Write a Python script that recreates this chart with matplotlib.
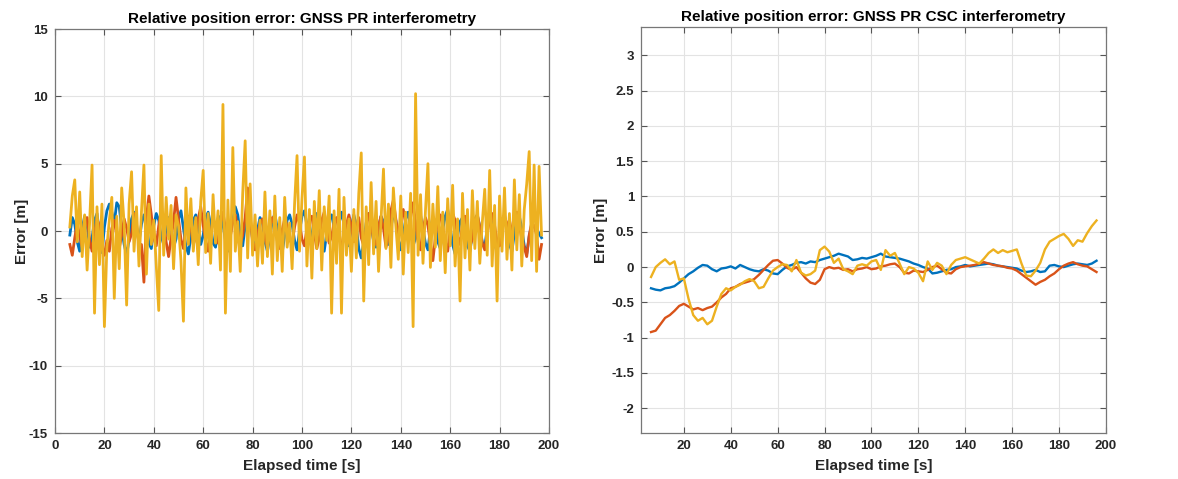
import numpy as np
import matplotlib.pyplot as plt

# kleuren zoals MATLAB standaard
c_blue = "#0072BD"
c_red = "#D95319"
c_yel = "#EDB120"

plt.rcParams['font.family'] = ['Liberation Sans', 'DejaVu Sans']
plt.rcParams['font.weight'] = 'bold'
plt.rcParams['axes.unicode_minus'] = False

# ---- links: GNSS PR interferometry (1 sample per seconde, t = 6..197 s)
t_pr = np.arange(6, 198)

err_pr_blue = [
    -0.3, 1.0, 0.5, -0.8, -1.5, 0.2, 1.1, 0.4, -1.2, -0.5,
    0.8, 1.3, -0.2, -1.6, 0.3, 1.5, 2.0, 1.4, 0.6, 2.1,
    1.8, 0.2, -1.0, -1.8, -0.6, 0.9, 1.4, 0.3, -0.8, 0.5,
    1.2, 0.6, -0.9, -1.3, 0.4, 1.3, 0.8, -0.4, -1.0, 0.2,
    1.0, 0.3, -1.2, -0.6, 0.9, 1.5, 0.2, -1.1, -1.7, -0.4,
    0.8, 1.2, 0.1, -1.0, -0.3, 1.0, 1.4, 0.5, -0.9, -1.2,
    0.2, 1.1, 0.5, -0.7, -1.5, -0.2, 0.9, 1.8, 1.2, -0.3,
    -1.1, 0.4, 1.6, 0.8, -0.6, -1.3, 0.1, 1.0, 0.6, -0.8,
    -1.5, -0.4, 0.7, 1.3, 0.2, -0.9, -1.6, -0.3, 0.8, 1.2,
    0.5, -0.7, -1.4, 0.0, 1.1, 1.5, 0.4, -0.8, -0.3, 0.9,
    1.3, 0.2, -1.0, -1.5, -0.2, 0.8, 1.2, 0.3, -0.6, 0.5,
    1.4, 0.6, -0.7, -1.1, 0.3, 1.2, 0.4, -1.3, -2.0, -0.8,
    0.6, 1.3, 0.5, -0.8, -1.2, 0.2, 1.1, 0.7, -0.5, -1.0,
    0.3, 1.2, 0.8, -0.6, -1.4, -0.3, 0.9, 1.4, 0.2, -1.1,
    -0.5, 0.8, 1.2, 0.1, -0.9, -1.4, 0.2, 1.0, 0.5, -0.8,
    -1.3, 0.1, 1.1, 1.6, 0.3, -1.0, -1.7, -0.4, 0.7, 1.0,
    0.1, -1.1, -1.5, -0.2, 0.9, 1.2, 0.3, -0.8, -1.2, 0.2,
    1.0, 0.6, -0.9, -1.6, -0.3, 0.8, 1.2, 0.1, -1.0, -1.5,
    -0.2, 0.9, 1.1, 0.2, -1.1, -1.7, -0.4, 0.5, 0.3, 0.2,
    -0.2, -0.5]

err_pr_red = [
    -1.0, -1.8, -0.5, 0.6, -0.4, -1.2, 0.3, 1.0, -0.6, -1.5,
    -0.2, 0.9, 0.4, -1.1, -1.8, -0.7, -1.5, 0.2, 0.8, -0.4,
    -1.3, -0.3, 0.9, 0.2, -0.8, -0.2, 1.3, 0.5, -1.0, -1.0,
    -3.8, 1.0, 2.6, 1.2, -0.5, -1.1, 0.4, 1.5, 0.6, -0.8,
    -1.9, -0.5, 0.7, 2.5, 0.9, -0.6, -1.3, 0.2, 1.1, 0.3,
    -1.0, -0.4, 0.9, 1.8, 0.4, -0.7, -1.5, -0.2, 0.8, 0.3,
    -0.9, 0.6, 1.4, 0.2, -1.1, -0.4, 0.7, 1.2, 0.1, -1.0,
    -0.3, 1.0, 3.2, 1.1, -0.8, -1.4, -0.3, 0.6, 0.9, -0.5,
    -1.2, 0.2, 1.0, 0.5, -0.7, -1.3, 0.1, 0.9, 0.4, -0.6,
    -1.0, 0.3, 1.2, 0.6, -0.6, -1.1, 0.2, 0.8, 1.1, -0.2,
    -1.3, -0.5, 0.8, 1.4, 0.3, -0.9, -0.4, 0.6, 1.0, -0.1,
    -1.2, -0.6, 0.5, 1.2, 0.4, -0.8, 0.3, 1.0, -0.5, -1.1,
    0.2, 1.3, 0.6, -0.7, -1.0, 0.4, 1.1, 0.2, -1.2, -0.5,
    1.5, 2.3, 0.9, -0.4, 0.8, 1.6, 0.5, -0.6, 1.0, 2.1,
    0.6, -0.8, -1.4, 0.2, 1.0, 0.4, -0.9, -2.2, -0.5, 0.9,
    1.2, 0.3, -0.8, -1.5, 0.1, 1.3, 0.8, -0.4, -1.0, 0.5,
    1.1, 0.2, -1.1, -0.6, 0.7, 1.2, 0.3, -0.9, -1.4, -0.2,
    0.9, 1.3, 0.4, -0.8, -1.1, 0.3, 1.0, 0.6, -0.5, 0.2,
    1.1, 1.4, 0.5, -0.6, -1.2, -1.9, -0.3, 0.6, 0.4, -0.3,
    -2.1, -1.0]

err_pr_yel = [
    0.3, 2.6, 3.8, -0.8, 2.9, -1.9, 1.2, -2.9, 0.6, 4.9,
    -6.1, 1.8, -2.5, 2.0, -7.1, -1.2, 0.8, 2.5, -5.0, 1.1,
    -2.8, 3.2, 0.5, -5.5, 2.0, 4.4, -1.5, 1.8, -2.6, 1.4,
    4.9, -3.2, 2.0, -1.0, 0.8, -2.5, -5.9, 5.6, -1.8, 2.5,
    -0.6, 1.9, -2.8, 1.2, 0.4, -2.2, -6.7, 3.2, -1.0, 2.4,
    -1.5, 1.0, -2.5, 2.2, 4.5, -1.6, 1.3, -2.4, 2.7, -0.9,
    1.5, -2.9, 9.4, -6.1, 2.3, -3.0, 6.2, -1.5, 0.7, -3.0,
    2.8, 6.7, -2.0, 3.5, -1.8, 1.2, -2.6, 0.8, -2.4, 2.9,
    -1.9, 1.5, -3.2, 2.6, -2.2, 1.0, -3.0, 2.5, -1.2, 0.6,
    -2.8, 2.0, 5.6, -1.5, 2.4, 5.5, -2.6, 1.6, -3.5, 2.2,
    -1.3, 3.0, -2.9, 1.8, -0.7, 2.6, -6.1, 1.5, -2.4, 3.1,
    -6.1, 2.5, -1.8, 0.9, -3.0, 1.6, -2.0, 2.8, 5.8, -5.2,
    1.8, -2.5, 3.6, -1.7, 2.2, -3.0, 0.8, 4.6, -1.3, 2.0,
    -2.7, 3.2, 0.4, -2.1, 2.6, -3.2, 1.4, -1.6, 2.8, -7.1,
    10.2, -1.8, 2.7, -2.4, 1.5, 5.0, -2.7, 2.0, -1.2, 3.3,
    -2.2, 1.4, -3.1, 2.4, -1.1, 3.4, -2.6, 0.9, -5.2, 2.8,
    -2.0, 1.6, -2.9, 3.0, -1.3, 2.2, -2.4, 0.6, 3.1, -1.8,
    4.5, -2.6, 1.9, -5.2, 2.6, -1.5, 3.2, -2.1, 1.3, -2.9,
    3.8, -1.4, 2.7, -2.6, 1.6, 3.5, 5.9, -2.2, 4.9, -3.0,
    4.8, -0.3]

t_csc = np.arange(6, 198, 2)

err_csc_blue = [
    -0.30, -0.32, -0.33, -0.30, -0.29, -0.27, -0.22, -0.16, -0.10, -0.06,
    -0.01, 0.03, 0.02, -0.03, -0.06, -0.02, -0.01, 0.01, -0.02, 0.03,
    0.00, -0.03, -0.05, -0.06, -0.03, -0.05, -0.09, -0.10, -0.04, 0.01,
    0.03, 0.06, 0.07, 0.05, 0.08, 0.07, 0.10, 0.12, 0.14, 0.16,
    0.19, 0.17, 0.15, 0.10, 0.11, 0.13, 0.12, 0.14, 0.16, 0.19,
    0.15, 0.14, 0.13, 0.12, 0.10, 0.08, 0.05, 0.03, 0.00, -0.02,
    -0.09, -0.08, -0.06, -0.04, -0.03, 0.00, 0.01, 0.03, 0.01, 0.02,
    0.03, 0.04, 0.05, 0.04, 0.02, 0.01, 0.00, -0.01, -0.02, -0.05,
    -0.07, -0.06, -0.04, -0.07, -0.06, 0.02, 0.03, 0.01, 0.00, 0.02,
    0.04, 0.05, 0.04, 0.03, 0.05, 0.09]

err_csc_red = [
    -0.92, -0.90, -0.81, -0.72, -0.68, -0.62, -0.55, -0.52, -0.56, -0.60,
    -0.58, -0.61, -0.58, -0.56, -0.50, -0.43, -0.38, -0.30, -0.28, -0.24,
    -0.22, -0.20, -0.17, -0.11, -0.04, 0.03, 0.09, 0.10, 0.05, -0.01,
    -0.04, 0.00, -0.08, -0.16, -0.22, -0.24, -0.18, -0.03, 0.00, -0.02,
    -0.01, -0.04, -0.03, -0.06, -0.03, -0.02, 0.00, -0.03, -0.02, 0.01,
    0.02, 0.04, 0.05, 0.00, -0.08, -0.09, -0.05, -0.06, -0.07, -0.04,
    0.00, 0.02, -0.03, -0.08, -0.09, -0.03, 0.00, 0.01, 0.02, 0.03,
    0.05, 0.07, 0.05, 0.03, 0.02, 0.01, -0.01, -0.02, -0.05, -0.10,
    -0.15, -0.20, -0.25, -0.21, -0.18, -0.13, -0.09, -0.03, 0.02, 0.05,
    0.07, 0.04, 0.02, 0.01, -0.03, -0.07]

err_csc_yel = [
    -0.14, 0.00, 0.06, 0.11, 0.04, 0.08, -0.18, -0.16, -0.45, -0.68,
    -0.76, -0.72, -0.81, -0.76, -0.56, -0.38, -0.30, -0.33, -0.28, -0.25,
    -0.20, -0.17, -0.20, -0.30, -0.28, -0.16, -0.05, 0.00, 0.04, 0.03,
    -0.06, 0.10, -0.08, -0.12, -0.10, -0.05, 0.24, 0.29, 0.22, 0.06,
    0.12, -0.03, -0.06, -0.10, 0.02, 0.04, 0.02, 0.08, 0.10, -0.04,
    0.24, 0.16, 0.20, 0.05, -0.10, 0.00, -0.02, -0.08, -0.20, 0.08,
    -0.04, 0.06, 0.02, -0.10, 0.03, 0.10, 0.12, 0.14, 0.11, 0.08,
    0.05, 0.12, 0.20, 0.25, 0.20, 0.24, 0.21, 0.23, 0.25, 0.05,
    -0.12, -0.13, -0.05, 0.06, 0.25, 0.36, 0.40, 0.44, 0.47, 0.40,
    0.30, 0.38, 0.36, 0.48, 0.58, 0.66]

csc_yticks = [-2, -1.5, -1, -0.5, 0, 0.5, 1, 1.5, 2, 2.5, 3]
csc_ylabels = ["-2", "-1.5", "-1", "-0.5", "0", "0.5", "1", "1.5", "2", "2.5", "3"]


def matlab_stijl(ax):
    ax.grid(True, color="#e3e3e3", linewidth=0.8)
    ax.set_axisbelow(True)
    for s in ax.spines.values():
        s.set_color("#777777")
        s.set_linewidth(0.9)
    ax.tick_params(direction="in", top=True, right=True, length=4,
                   width=0.8, color="#555555", labelsize=9.5,
                   labelcolor="#262626", pad=5)
    for lab in ax.get_xticklabels() + ax.get_yticklabels():
        lab.set_fontweight("bold")


fig = plt.figure(figsize=(11.78, 4.79), dpi=100)

ax1 = fig.add_axes([0.0467, 0.096, 0.4193, 0.8434])
ax1.plot(t_pr, err_pr_blue, color=c_blue, lw=2.0)
ax1.plot(t_pr, err_pr_red, color=c_red, lw=2.0)
ax1.plot(t_pr, err_pr_yel, color=c_yel, lw=2.0)
ax1.set_xlim(0, 200)
ax1.set_ylim(-15, 15)
ax1.set_xticks(np.arange(0, 201, 20))
ax1.set_yticks(np.arange(-15, 16, 5))
ax1.set_title("Relative position error: GNSS PR interferometry",
              fontsize=11, fontweight="bold", pad=4)
ax1.set_xlabel("Elapsed time [s]", fontsize=11, fontweight="bold", color="#262626", labelpad=5)
ax1.set_ylabel("Error [m]", fontsize=11, fontweight="bold", color="#262626", labelpad=0)
matlab_stijl(ax1)

ax2 = fig.add_axes([0.5441, 0.096, 0.3947, 0.8476])
ax2.plot(t_csc, err_csc_blue, color=c_blue, lw=1.7)
ax2.plot(t_csc, err_csc_red, color=c_red, lw=1.7)
ax2.plot(t_csc, err_csc_yel, color=c_yel, lw=1.7)
ax2.set_xlim(1.7, 200)
ax2.set_ylim(-2.35, 3.4)
ax2.set_xticks(np.arange(20, 201, 20))
ax2.set_yticks(csc_yticks)
ax2.set_yticklabels(csc_ylabels)
ax2.set_title("Relative position error: GNSS PR CSC interferometry",
              fontsize=11, fontweight="bold", pad=4)
ax2.set_xlabel("Elapsed time [s]", fontsize=11, fontweight="bold", color="#262626", labelpad=5)
ax2.set_ylabel("Error [m]", fontsize=11, fontweight="bold", color="#262626", labelpad=2)
matlab_stijl(ax2)

fig.savefig("out.png", dpi=100)
